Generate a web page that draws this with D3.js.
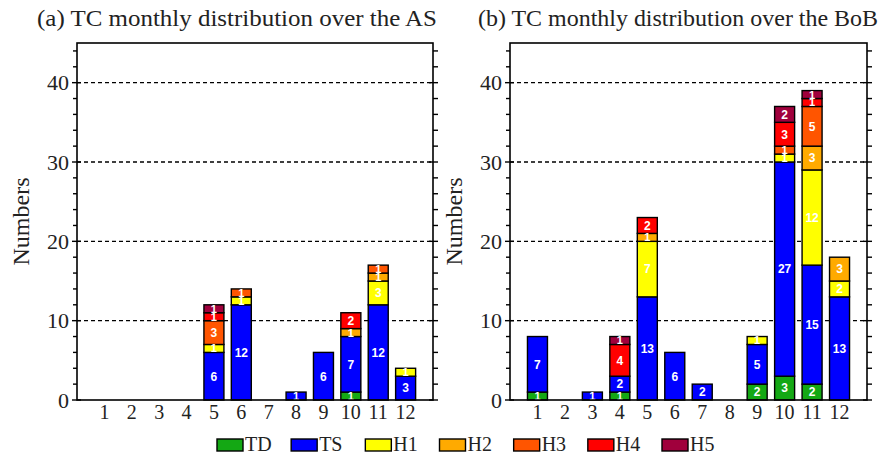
<!DOCTYPE html>
<html>
<head>
<meta charset="utf-8">
<script src="https://cdn.jsdelivr.net/npm/d3@7"></script>
<style>
  html, body { margin: 0; padding: 0; background: #fff; }
  svg { display: block; }
</style>
</head>
<body>
<svg id="chart" width="892" height="457"></svg>
<script>
// Monthly tropical cyclone counts by intensity class
const months = [1, 2, 3, 4, 5, 6, 7, 8, 9, 10, 11, 12];
const categories = ["TD", "TS", "H1", "H2", "H3", "H4", "H5"];
const colors = ["#14a814", "#0000ff", "#ffff00", "#ffaa00", "#ff5500", "#ff0000", "#a0003c"];
const yTicks = [0, 10, 20, 30, 40];

// Arabian Sea
const asTD = [0, 0, 0, 0, 0, 0, 0, 0, 0, 1, 0, 0];
const asTS = [0, 0, 0, 0, 6, 12, 0, 1, 6, 7, 12, 3];
const asH1 = [0, 0, 0, 0, 1, 1, 0, 0, 0, 0, 3, 1];
const asH2 = [0, 0, 0, 0, 0, 0, 0, 0, 0, 1, 1, 0];
const asH3 = [0, 0, 0, 0, 3, 1, 0, 0, 0, 0, 1, 0];
const asH4 = [0, 0, 0, 0, 1, 0, 0, 0, 0, 2, 0, 0];
const asH5 = [0, 0, 0, 0, 1, 0, 0, 0, 0, 0, 0, 0];

// Bay of Bengal
const bobTD = [1, 0, 0, 1, 0, 0, 0, 0, 2, 3, 2, 0];
const bobTS = [7, 0, 1, 2, 13, 6, 2, 0, 5, 27, 15, 13];
const bobH1 = [0, 0, 0, 0, 7, 0, 0, 0, 1, 1, 12, 2];
const bobH2 = [0, 0, 0, 0, 1, 0, 0, 0, 0, 0, 3, 3];
const bobH3 = [0, 0, 0, 0, 0, 0, 0, 0, 0, 1, 5, 0];
const bobH4 = [0, 0, 0, 4, 2, 0, 0, 0, 0, 3, 1, 0];
const bobH5 = [0, 0, 0, 1, 0, 0, 0, 0, 0, 2, 1, 0];

const panels = [
  { title: "(a) TC monthly distribution over the AS", left: 77, right: 433, titleX: 237,
    series: [asTD, asTS, asH1, asH2, asH3, asH4, asH5] },
  { title: "(b) TC monthly distribution over the BoB", left: 510, right: 867, titleX: 678,
    series: [bobTD, bobTS, bobH1, bobH2, bobH3, bobH4, bobH5] }
];

const plotTop = 43, plotBottom = 400;
const serif = "'Liberation Serif', 'Times New Roman', serif";
const svg = d3.select("#chart");

const y = d3.scaleLinear().domain([0, 45]).range([plotBottom, plotTop]);

panels.forEach(p => {
  const g = svg.append("g");
  const x = d3.scaleLinear().domain([0, 13]).range([p.left, p.right]);
  const barW = 20;

  // rows for stacking
  const rows = months.map((m, i) => {
    const r = { month: m };
    categories.forEach((c, k) => r[c] = p.series[k][i]);
    return r;
  });
  const stacked = d3.stack().keys(categories)(rows);

  // dashed grid lines
  g.selectAll("line.grid").data(yTicks.filter(d => d > 0)).join("line")
    .attr("x1", p.left).attr("x2", p.right)
    .attr("y1", d => y(d)).attr("y2", d => y(d))
    .attr("stroke", "#000").attr("stroke-width", 1.3)
    .attr("stroke-dasharray", "4,3");

  // stacked bars
  stacked.forEach((layer, k) => {
    const segs = layer.filter(d => d[1] - d[0] > 0);
    g.selectAll(null).data(segs).join("rect")
      .attr("x", d => x(d.data.month) - barW / 2)
      .attr("width", barW)
      .attr("y", d => y(d[1]))
      .attr("height", d => y(d[0]) - y(d[1]))
      .attr("fill", colors[k])
      .attr("stroke", "#000").attr("stroke-width", 1.4);
  });
  // segment counts
  stacked.forEach((layer, k) => {
    const segs = layer.filter(d => d[1] - d[0] > 0);
    g.selectAll(null).data(segs).join("text")
      .attr("x", d => x(d.data.month))
      .attr("y", d => (y(d[0]) + y(d[1])) / 2)
      .attr("dy", "0.36em")
      .attr("text-anchor", "middle")
      .attr("fill", "#fff")
      .attr("font-family", "'Liberation Sans', Arial, sans-serif")
      .attr("font-weight", "bold")
      .attr("font-size", d => (d[1] - d[0] > 1 ? 12 : 11))
      .text(d => d[1] - d[0]);
  });

  // frame
  g.append("rect")
    .attr("x", p.left).attr("y", plotTop)
    .attr("width", p.right - p.left).attr("height", plotBottom - plotTop)
    .attr("fill", "none").attr("stroke", "#000").attr("stroke-width", 1.6);

  // y axis: labelled major ticks and minor ticks every 2
  const minor = d3.range(0, 46, 2);
  g.selectAll(null).data(minor).join("line")
    .attr("x1", d => p.left - (d % 10 === 0 ? 5 : 4)).attr("x2", d => p.left + (d % 10 === 0 ? 4 : 0))
    .attr("y1", d => y(d)).attr("y2", d => y(d))
    .attr("stroke", "#000").attr("stroke-width", 1.4);
  g.selectAll(null).data(minor).join("line")
    .attr("x1", d => p.right - (d % 10 === 0 ? 4 : 0)).attr("x2", d => p.right + 5)
    .attr("y1", d => y(d)).attr("y2", d => y(d))
    .attr("stroke", "#000").attr("stroke-width", 1.4);

  g.selectAll(null).data(yTicks).join("text")
    .attr("x", p.left - 8).attr("y", d => y(d))
    .attr("dy", "0.35em").attr("text-anchor", "end")
    .attr("font-family", serif).attr("font-size", 22).attr("fill", "#222")
    .text(d => d);

  // x axis month labels
  g.selectAll(null).data(months).join("text")
    .attr("x", d => x(d)).attr("y", plotBottom + 19)
    .attr("text-anchor", "middle")
    .attr("font-family", serif).attr("font-size", 20).attr("fill", "#222")
    .text(d => d);

  // y label
  g.append("text")
    .attr("transform", `translate(${p.left - 48},${(plotTop + plotBottom) / 2}) rotate(-90)`)
    .attr("text-anchor", "middle")
    .attr("font-family", serif).attr("font-size", 24).attr("fill", "#222")
    .text("Numbers");

  // panel title
  g.append("text")
    .attr("x", p.titleX).attr("y", 26)
    .attr("text-anchor", "middle")
    .attr("font-family", serif).attr("font-size", 24).attr("fill", "#222")
    .attr("textLength", 400).attr("lengthAdjust", "spacingAndGlyphs")
    .text(p.title);
});

// legend
const legendX = d3.scalePoint().domain(categories).range([217, 662]);
const lg = svg.append("g");
lg.selectAll("rect").data(categories).join("rect")
  .attr("x", d => legendX(d)).attr("y", 439)
  .attr("width", 26).attr("height", 12)
  .attr("fill", (d, i) => colors[i])
  .attr("stroke", "#000").attr("stroke-width", 1.4);
lg.selectAll("text").data(categories).join("text")
  .attr("x", d => legendX(d) + 28).attr("y", 451)
  .attr("font-family", serif).attr("font-size", 20).attr("fill", "#222")
  .text(d => d);
</script>
</body>
</html>
